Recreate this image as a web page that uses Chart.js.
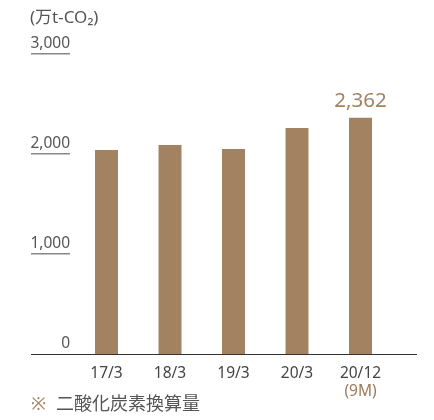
<!DOCTYPE html>
<html>
<head>
<meta charset="utf-8">
<script src="https://cdn.jsdelivr.net/npm/chart.js@4"></script>
<style>
  html, body { margin: 0; padding: 0; background: #fff; }
  #wrap { width: 434px; height: 420px; }
</style>
</head>
<body>
<div id="wrap"><canvas id="myChart" width="434" height="420"></canvas></div>
<script>
var categories = ["17/3", "18/3", "19/3", "20/3", "20/12"];
var emissions = [2040, 2090, 2050, 2260, 2362];
var yTicks = [0, 1000, 2000, 3000];
var unitLabel = "(万t-CO₂)";
var lastNote = "(9M)";
var footnote = "二酸化炭素換算量";

var brown = "#a38262";
var font = "'Noto Sans', 'Noto Sans CJK JP', sans-serif";

function fmt(v) {
	return v.toLocaleString("en-US");
}

// axis line, y labels with underlines, category labels and notes
var decor = {
	id: "decor",
	afterDatasetsDraw: function(chart) {
		var ctx = chart.ctx;
		var x = chart.scales.x, y = chart.scales.y;
		ctx.save();

		// baseline
		var y0 = Math.round(y.getPixelForValue(0)) + 0.5;
		ctx.strokeStyle = "#333";
		ctx.lineWidth = 1;
		ctx.beginPath();
		ctx.moveTo(31, y0);
		ctx.lineTo(417, y0);
		ctx.stroke();

		// y tick labels sitting on short rules
		ctx.font = "15.5px " + font;
		ctx.textAlign = "right";
		ctx.textBaseline = "alphabetic";
		for (var i = 0; i < yTicks.length; i++) {
			var py = y.getPixelForValue(yTicks[i]);
			ctx.fillStyle = "#555";
			ctx.fillText(fmt(yTicks[i]), 70, py - 6);
			if (yTicks[i] > 0) {
				ctx.fillStyle = "#888";
				ctx.fillRect(31, Math.round(py) - 1, 39, 1.5);
			}
		}

		// category labels
		ctx.textAlign = "center";
		ctx.fillStyle = "#444";
		ctx.font = "15.5px " + font;
		for (var j = 0; j < categories.length; j++) {
			ctx.fillText(categories[j], x.getPixelForValue(j), y0 + 23);
		}
		var last = categories.length - 1;
		ctx.fillStyle = "#9a7a5c";
		ctx.fillText(lastNote, x.getPixelForValue(last), y0 + 41);

		// value on the latest bar
		ctx.font = "20.5px " + font;
		ctx.fillStyle = brown;
		ctx.fillText(fmt(emissions[last]), x.getPixelForValue(last), y.getPixelForValue(emissions[last]) - 11);

		// unit
		ctx.textAlign = "left";
		ctx.font = "17px " + font;
		ctx.fillStyle = "#555";
		ctx.fillText(unitLabel, 30, 23);

		// footnote
		ctx.font = "18px " + font;
		ctx.fillStyle = "#a38262";
		ctx.fillText("※", 31, 410);
		ctx.fillStyle = "#555";
		ctx.fillText(footnote, 56, 410);

		ctx.restore();
	}
};

window.onload = function() {
	var ctx = document.getElementById("myChart").getContext("2d");
	var chart = new Chart(ctx, {
		type: "bar",
		data: {
			labels: categories,
			datasets: [{
				data: emissions,
				backgroundColor: brown,
				barPercentage: 0.362,
				categoryPercentage: 1
			}]
		},
		options: {
			responsive: false,
			animation: false,
			layout: { padding: { left: 74.75, right: 41.75, top: 54, bottom: 66 } },
			plugins: { legend: { display: false }, tooltip: { enabled: false } },
			scales: {
				x: { display: false },
				y: { display: false, min: 0, max: 3000 }
			}
		},
		plugins: [decor]
	});
};
</script>
</body>
</html>
